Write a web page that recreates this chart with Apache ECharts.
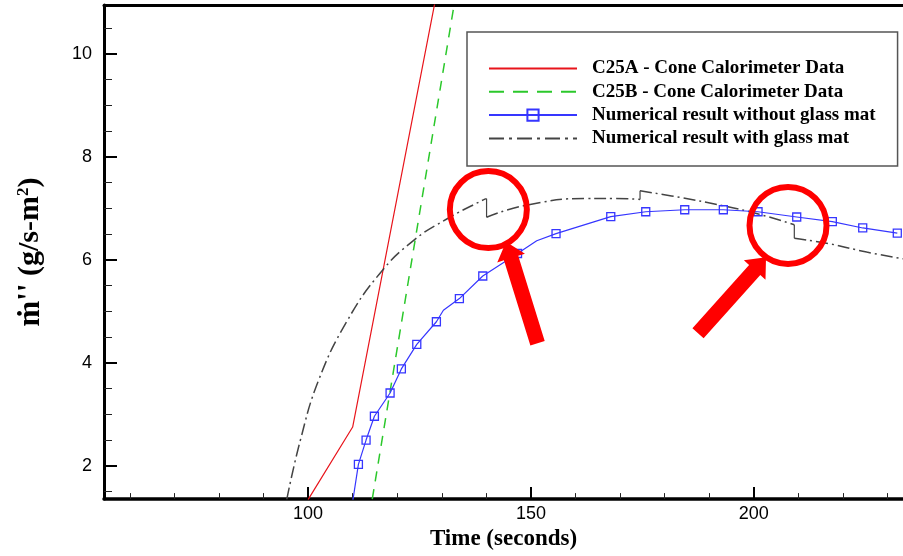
<!DOCTYPE html>
<html><head><meta charset="utf-8">
<script src="https://cdn.jsdelivr.net/npm/echarts@6/dist/echarts.min.js"></script>
<style>html,body{margin:0;padding:0;background:#fff}#c{width:903px;height:556px}</style>
</head><body><div id="c"></div>
<script>
// ---- tick labels ----
const xMajorTicks = [100, 150, 200];
const xMinorTicks = [60, 70, 80, 90, 110, 120, 130, 140, 160, 170, 180, 190, 210, 220, 230];
const yMajorTicks = [2, 4, 6, 8, 10];
const yMinorTicks = [1.5, 2.5, 3, 3.5, 4.5, 5, 5.5, 6.5, 7, 7.5, 8.5, 9, 9.5, 10.5];

// ---- series names ----
const seriesNames = [
  'C25A - Cone Calorimeter Data',
  'C25B - Cone Calorimeter Data',
  'Numerical result without glass mat',
  'Numerical result with glass mat'
];

// ---- C25A (red solid) ----
const c25aTime = [100, 110, 130];
const c25aRate = [1.34, 2.75, 11.69];

// ---- C25B (green dashed) ----
const c25bTime = [114.4, 133.5];
const c25bRate = [1.35, 11.34];

// ---- without glass mat (blue, marked points) ----
const noMatTime = [111.29, 113.01, 114.88, 118.40, 120.93, 124.39, 128.79, 133.95, 139.20, 147.00,
                   155.64, 167.92, 175.77, 184.52, 193.18, 200.97, 209.65, 217.64, 224.46, 232.22];
const noMatRate = [2.025, 2.497, 2.960, 3.411, 3.880, 4.357, 4.796, 5.246, 5.685, 6.122,
                   6.508, 6.837, 6.933, 6.972, 6.972, 6.933, 6.831, 6.740, 6.618, 6.516];
// unmarked points of the same curve
const noMatCurveTime = [110.0, 130.36, 151.31];
const noMatCurveRate = [1.30, 5.02, 6.37];

// ---- with glass mat (black dash-dot); repeated time = vertical jump ----
const withMatTime = [95.22, 98.21, 102.36, 108.68, 116.15, 123.63, 131.12, 139.33, 140.05, 140.05,
                     148.31, 162.53, 168.50, 174.49, 174.49, 183.46, 193.18, 201.03, 209.11, 209.11,
                     217.12, 225.35, 233.5];
const withMatRate = [1.343, 2.477, 3.660, 4.800, 5.740, 6.373, 6.792, 7.165, 7.188, 6.825,
                     7.049, 7.192, 7.192, 7.173, 7.339, 7.211, 7.049, 6.889, 6.682, 6.419,
                     6.309, 6.149, 6.019];

const zip = (a, b) => a.map((v, i) => [v, b[i]]);

const noMatData = noMatTime.map((t, i) => ({ value: [t, noMatRate[i]] }))
  .concat(noMatCurveTime.map((t, i) => ({ value: [t, noMatCurveRate[i]], symbol: 'none' })))
  .sort((a, b) => a.value[0] - b.value[0]);

// split the glass-mat curve into smooth pieces and the vertical jumps between them
const withMatSmooth = [], withMatJumps = [];
withMatTime.forEach((t, i) => {
  if (i > 0 && t === withMatTime[i - 1]) {
    withMatSmooth.push(null);
    if (withMatJumps.length) withMatJumps.push(null);
    withMatJumps.push([t, withMatRate[i - 1]], [t, withMatRate[i]]);
  }
  withMatSmooth.push([t, withMatRate[i]]);
});

const X_MIN = 54.2, X_MAX = 233.5, Y_MIN = 1.35, Y_MAX = 10.95;

const chart = echarts.init(document.getElementById('c'), null, { renderer: 'canvas' });

const serif = '"Liberation Serif", "Times New Roman", "DejaVu Serif", serif';
const sans = '"Liberation Sans", Arial, Helvetica, sans-serif';

chart.setOption({
  animation: false,
  backgroundColor: '#fff',
  grid: { left: 104, right: 0, top: 5, bottom: 54, containLabel: false },
  xAxis: [
    {
      type: 'value', min: X_MIN, max: X_MAX, position: 'bottom',
      axisLine: { onZero: false, lineStyle: { color: '#000', width: 3.5 } },
      axisTick: { show: true, inside: true, length: 12, customValues: xMajorTicks, lineStyle: { color: '#000', width: 2 } },
      axisLabel: { customValues: xMajorTicks, fontSize: 18, color: '#000', fontFamily: sans, margin: 6 },
      splitLine: { show: false },
      name: 'Time (seconds)', nameLocation: 'middle', nameGap: 22,
      nameTextStyle: { fontFamily: serif, fontWeight: 'bold', fontSize: 23, color: '#000' }
    },
    {
      type: 'value', min: X_MIN, max: X_MAX, position: 'bottom',
      axisLine: { show: false, onZero: false },
      axisTick: { show: true, inside: true, length: 6, customValues: xMinorTicks, lineStyle: { color: '#222', width: 1 } },
      axisLabel: { show: false }, splitLine: { show: false }
    },
    {
      type: 'value', min: X_MIN, max: X_MAX, position: 'top',
      axisLine: { show: true, onZero: false, lineStyle: { color: '#000', width: 3 } },
      axisTick: { show: false }, axisLabel: { show: false }, splitLine: { show: false }
    }
  ],
  yAxis: [
    {
      type: 'value', min: Y_MIN, max: Y_MAX, position: 'left',
      axisLine: { show: true, onZero: false, lineStyle: { color: '#000', width: 3 } },
      axisTick: { show: true, inside: true, length: 13, customValues: yMajorTicks, lineStyle: { color: '#000', width: 2 } },
      axisLabel: { customValues: yMajorTicks, fontSize: 18, color: '#000', fontFamily: sans, margin: 12 },
      splitLine: { show: false },
      name: "{m|ṁ''} {t|(g/s-m}{s|2}{t|)}",
      nameLocation: 'middle', nameRotate: 90, nameGap: 58,
      nameTextStyle: {
        fontFamily: serif, fontWeight: 'bold', fontSize: 30, color: '#000',
        rich: {
          m: { fontFamily: serif, fontWeight: 'bold', fontSize: 31, color: '#000' },
          t: { fontFamily: serif, fontWeight: 'bold', fontSize: 30, color: '#000' },
          s: { fontFamily: serif, fontWeight: 'bold', fontSize: 17, color: '#000', verticalAlign: 'top' }
        }
      }
    },
    {
      type: 'value', min: Y_MIN, max: Y_MAX, position: 'left',
      axisLine: { show: false, onZero: false },
      axisTick: { show: true, inside: true, length: 8, customValues: yMinorTicks, lineStyle: { color: '#222', width: 1 } },
      axisLabel: { show: false }, splitLine: { show: false }
    }
  ],
  legend: {
    orient: 'vertical', left: 467, top: 32,
    padding: [26, 22, 17, 21],
    itemWidth: 88, itemHeight: 14, itemGap: 2.3,
    borderColor: '#555', borderWidth: 1.5, backgroundColor: '#fff',
    textStyle: { fontFamily: serif, fontWeight: 'bold', fontSize: 19, color: '#000', lineHeight: 21, padding: [0, 0, 0, 10] },
    data: [
      { name: seriesNames[0], itemStyle: { opacity: 0 } },
      { name: seriesNames[1], itemStyle: { opacity: 0 }, lineStyle: { type: [15, 9] } },
      { name: seriesNames[2] },
      { name: seriesNames[3], itemStyle: { opacity: 0 }, lineStyle: { type: [15, 5, 3, 5] } }
    ]
  },
  series: [
    {
      name: seriesNames[0], type: 'line', data: zip(c25aTime, c25aRate), symbol: 'none',
      lineStyle: { color: '#e8141b', width: 1.2 }, itemStyle: { color: '#e8141b' }, z: 3
    },
    {
      name: seriesNames[1], type: 'line', data: zip(c25bTime, c25bRate), symbol: 'none',
      lineStyle: { color: '#2bc82b', width: 1.5, type: [10, 8] }, itemStyle: { color: '#2bc82b' }, z: 3
    },
    {
      name: seriesNames[2], type: 'line', data: noMatData, symbol: 'rect', symbolSize: 8,
      showAllSymbol: true,
      lineStyle: { color: '#3636ff', width: 1.2 },
      itemStyle: { color: 'rgba(255,255,255,0)', borderColor: '#3636ff', borderWidth: 1.3 }, z: 4
    },
    {
      name: seriesNames[3], type: 'line', data: withMatSmooth, symbol: 'none',
      smooth: 0.45, connectNulls: false,
      lineStyle: { color: '#444', width: 1.5, type: [12, 4, 2, 4] }, itemStyle: { color: '#444' }, z: 3
    },
    {
      name: seriesNames[3], type: 'line', data: withMatJumps, symbol: 'none', connectNulls: false,
      lineStyle: { color: '#444', width: 1.2 }, itemStyle: { color: '#444' }, z: 3
    }
  ]
});

// ---- annotations (anchored in data coordinates) ----
const annotationCircles = [[140.45, 6.976], [207.70, 6.667]];
const annotationArrows = [
  { tail: [151.49, 4.377], tip: [144.42, 6.348] },
  { tail: [187.50, 4.570], tip: [202.76, 6.048] }
];
const toPx = (pt) => chart.convertToPixel({ xAxisIndex: 0, yAxisIndex: 0 }, pt);

function arrowPoints(tail, tip, shaftW, headW, headL) {
  const dx = tip[0] - tail[0], dy = tip[1] - tail[1];
  const L = Math.hypot(dx, dy);
  const ux = dx / L, uy = dy / L, nx = -uy, ny = ux;
  const nk = [tip[0] - ux * headL, tip[1] - uy * headL];
  return [
    [tail[0] + nx * shaftW / 2, tail[1] + ny * shaftW / 2],
    [nk[0] + nx * shaftW / 2, nk[1] + ny * shaftW / 2],
    [nk[0] + nx * headW / 2, nk[1] + ny * headW / 2],
    tip,
    [nk[0] - nx * headW / 2, nk[1] - ny * headW / 2],
    [nk[0] - nx * shaftW / 2, nk[1] - ny * shaftW / 2],
    [tail[0] - nx * shaftW / 2, tail[1] - ny * shaftW / 2]
  ];
}

const graphics = [];
annotationArrows.forEach(a => {
  graphics.push({
    type: 'polygon', z: 99,
    shape: { points: arrowPoints(toPx(a.tail), toPx(a.tip), 15, 29, 17) },
    style: { fill: '#ff0000' }
  });
});
annotationCircles.forEach(c => {
  const p = toPx(c);
  graphics.push({
    type: 'circle', z: 100,
    shape: { cx: p[0], cy: p[1], r: 38.5 },
    style: { fill: 'none', stroke: '#ff0000', lineWidth: 6 }
  });
});
chart.setOption({ graphic: graphics });
</script>
</body></html>
